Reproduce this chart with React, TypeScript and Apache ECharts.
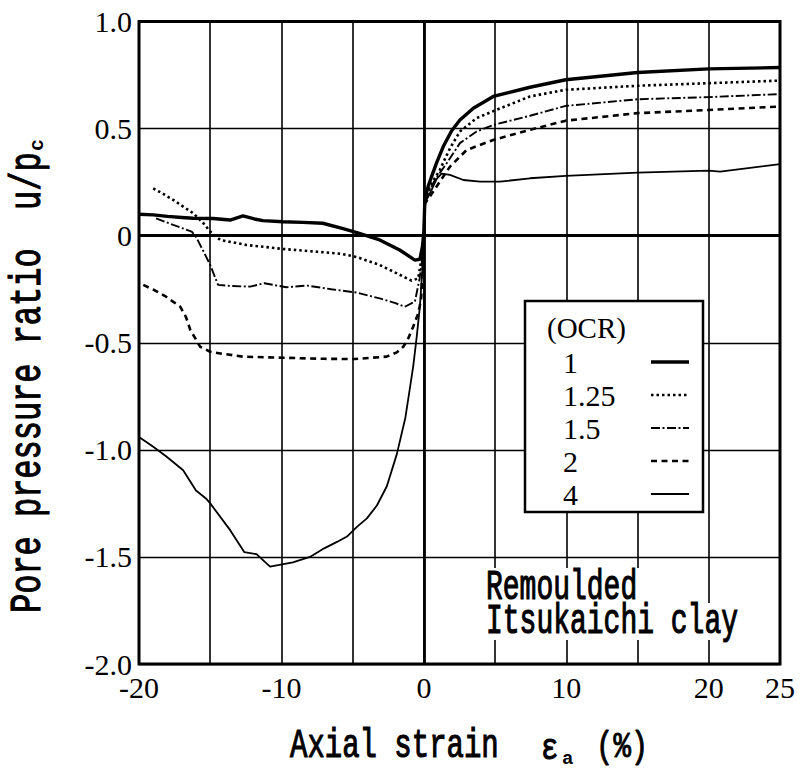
import React, { useEffect, useRef } from "react";
import * as echarts from "echarts";

// OCR values (legend labels)
const ocrLabels = ["1", "1.25", "1.5", "2", "4"];

// [axial strain %, u/pc]
const ocr1: [number, number][] = [
  [-20, 0.1], [-19, 0.097], [-18, 0.09], [-17, 0.085], [-16.2, 0.081], [-14.8, 0.08],
  [-13.6, 0.073], [-12.7, 0.092], [-11.9, 0.078], [-11.3, 0.07], [-9.9, 0.065], [-8.5, 0.062],
  [-7.1, 0.058], [-5.8, 0.035], [-4.7, 0.014], [-3.1, -0.02], [-1.7, -0.067], [-0.63, -0.114],
  [-0.28, -0.11], [-0.1, -0.05], [0, 0.02], [0.07, 0.17], [0.3, 0.23], [0.54, 0.276],
  [0.89, 0.34], [1.36, 0.416], [1.95, 0.49], [2.53, 0.54], [3.47, 0.595], [4.87, 0.65],
  [7.45, 0.693], [9.96, 0.728], [15, 0.762], [20, 0.779], [25, 0.785],
];

const ocr125: [number, number][] = [
  [-19, 0.221], [-18.3, 0.195], [-17.6, 0.167], [-16.2, 0.105], [-15.5, 0.06], [-15, 0.019],
  [-14.3, -0.02], [-12.5, -0.043], [-9.9, -0.062], [-7.5, -0.075], [-5.8, -0.085], [-4.7, -0.1],
  [-3.1, -0.137], [-1.9, -0.176], [-0.87, -0.21], [-0.4, -0.2], [-0.15, -0.1], [0, 0.0],
  [0.07, 0.16], [0.3, 0.21], [0.6, 0.25], [1.12, 0.307], [1.83, 0.408], [2.53, 0.486],
  [3.7, 0.549], [5.0, 0.585], [7.45, 0.65], [9.96, 0.681], [15, 0.7], [20, 0.712], [25, 0.724],
];

const ocr15: [number, number][] = [
  [-18.8, 0.081], [-17.6, 0.05], [-16.3, 0.019], [-16, -0.005], [-15.5, -0.07], [-15, -0.137],
  [-14.45, -0.23], [-13.5, -0.235], [-12.2, -0.238], [-11.2, -0.222], [-9.65, -0.241],
  [-8.2, -0.233], [-6.5, -0.25], [-4.7, -0.266], [-3.1, -0.293], [-2, -0.315], [-1.34, -0.332],
  [-0.63, -0.308], [-0.3, -0.2], [-0.1, -0.1], [0, 0.0], [0.07, 0.16], [0.4, 0.21], [0.77, 0.26],
  [1.6, 0.338], [2.53, 0.432], [3.7, 0.486], [4.87, 0.517], [7.45, 0.56], [9.96, 0.606],
  [15, 0.637], [20, 0.647], [25, 0.661],
];

const ocr2: [number, number][] = [
  [-19.7, -0.23], [-18.9, -0.255], [-18.1, -0.285], [-17.1, -0.332], [-16.7, -0.38],
  [-16.4, -0.44], [-15.7, -0.519], [-15, -0.542], [-14.6, -0.547], [-12.7, -0.565],
  [-9.9, -0.57], [-7, -0.575], [-4.85, -0.576], [-2.62, -0.565], [-1.9, -0.545],
  [-1.45, -0.519], [-1.1, -0.48], [-0.75, -0.425], [-0.4, -0.363], [-0.2, -0.3],
  [-0.05, -0.12], [0, 0.0], [0.07, 0.15], [0.6, 0.2], [1.2, 0.26], [1.83, 0.322], [3.0, 0.4],
  [4.87, 0.447], [7.45, 0.494], [9.96, 0.537], [15, 0.572], [20, 0.587], [25, 0.603],
];

const ocr4: [number, number][] = [
  [-20, -0.94], [-19, -0.986], [-18.1, -1.03], [-16.9, -1.095], [-16, -1.19], [-15.3, -1.227],
  [-15, -1.25], [-13.6, -1.375], [-12.6, -1.478], [-11.75, -1.487], [-10.8, -1.545],
  [-9.2, -1.525], [-8, -1.5], [-7, -1.46], [-6.1, -1.43], [-5.4, -1.405], [-4.7, -1.36],
  [-4, -1.32], [-3.3, -1.26], [-2.6, -1.17], [-1.9, -1.02], [-1.3, -0.85], [-1.0, -0.72],
  [-0.75, -0.61], [-0.5, -0.47], [-0.28, -0.33], [-0.1, -0.15], [0, 0.0], [0.07, 0.15],
  [0.19, 0.167], [0.54, 0.214], [0.9, 0.265], [1.24, 0.29], [1.83, 0.284], [2.77, 0.26],
  [3.94, 0.252], [5.34, 0.252], [7.45, 0.268], [9.96, 0.279], [15, 0.294], [20, 0.304],
  [20.8, 0.299], [25, 0.334],
];

const seriesData = [ocr1, ocr125, ocr15, ocr2, ocr4];

const lineStyles: { width: number; type: any }[] = [
  { width: 3.4, type: "solid" },
  { width: 2.6, type: [2.5, 3] },
  { width: 1.9, type: [9, 2.5, 2, 2.5] },
  { width: 2.6, type: [6, 4.5] },
  { width: 1.8, type: "solid" },
];

const xLabelValues = [-20, -10, 0, 10, 20, 25];

const SERIF = "'Liberation Serif', 'Times New Roman', serif";
const MONO = "'Liberation Mono', 'Courier New', monospace";

export default function App() {
  const ref = useRef<HTMLDivElement>(null);

  useEffect(() => {
    if (!ref.current) return;
    const chart = echarts.init(ref.current, undefined, { renderer: "svg" });

    const series: any[] = seriesData.map((d, i) => ({
      name: ocrLabels[i],
      type: "line",
      data: d,
      showSymbol: false,
      symbol: "none",
      smooth: false,
      z: 3,
      lineStyle: { color: "#000", width: lineStyles[i].width, type: lineStyles[i].type, cap: "butt" },
    }));

    series.push({
      name: "zero",
      type: "line",
      data: [],
      showSymbol: false,
      z: 2,
      markLine: {
        silent: true,
        symbol: "none",
        label: { show: false },
        lineStyle: { color: "#000", width: 2.8, type: "solid" },
        data: [{ xAxis: 0 }, { yAxis: 0 }],
      },
    });

    const monoText = (text: string, x: number, y: number, size: number, extra: any = {}) => ({
      type: "text",
      z: 101,
      x,
      y,
      scaleY: extra.scaleY ?? 1.45,
      rotation: extra.rotation ?? 0,
      style: {
        text,
        fontSize: size,
        lineHeight: extra.lineHeight ?? Math.round(size * 0.85),
        fontFamily: MONO,
        fontWeight: extra.fontWeight ?? "normal",
        fill: "#000",
        stroke: "#000",
        lineWidth: extra.lineWidth ?? 0.8,
        align: "left",
        verticalAlign: "middle",
      },
    });

    // legend graphic
    const legendX = 525, legendY = 301, legendW = 178, legendH = 211;
    const rowY0 = 362, rowGap = 33;
    const graphics: any[] = [
      {
        type: "rect",
        z: 100,
        shape: { x: legendX, y: legendY, width: legendW, height: legendH },
        style: { fill: "#fff", stroke: "#000", lineWidth: 2.5 },
      },
      {
        type: "text",
        z: 101,
        x: 547,
        y: 328,
        style: { text: "(OCR)", fontSize: 29, fontFamily: SERIF, fill: "#000", align: "left", verticalAlign: "middle" },
      },
    ];
    ocrLabels.forEach((lab, i) => {
      const y = rowY0 + i * rowGap;
      graphics.push({
        type: "text",
        z: 101,
        x: 563,
        y: y,
        style: { text: lab, fontSize: 30, fontFamily: SERIF, fill: "#000", align: "left", verticalAlign: "middle" },
      });
      graphics.push({
        type: "line",
        z: 101,
        shape: { x1: 651, y1: y, x2: 689, y2: y },
        style: { stroke: "#000", lineWidth: lineStyles[i].width, lineDash: lineStyles[i].type === "solid" ? null : lineStyles[i].type },
      });
    });

    // annotation
    graphics.push(
      { type: "rect", z: 100, shape: { x: 482, y: 568, width: 170, height: 35 }, style: { fill: "#fff" } },
      { type: "rect", z: 100, shape: { x: 482, y: 603, width: 256, height: 37 }, style: { fill: "#fff" } },
      monoText("Remoulded", 486, 588, 28, { scaleY: 1.5 }),
      monoText("Itsukaichi clay", 486, 622, 28, { scaleY: 1.5 })
    );

    // x axis title
    graphics.push(
      monoText("Axial strain", 290, 747, 29, { scaleY: 1.4 }),
      monoText("ε", 541, 749, 29, { scaleY: 1.3 }),
      monoText("a", 562, 759, 19, { scaleY: 1, lineHeight: 14, fontWeight: "bold", lineWidth: 0 }),
      monoText("(%)", 596, 747, 29, { scaleY: 1.3 })
    );

    // y axis title (rotated)
    graphics.push(
      monoText("Pore pressure ratio  u/p", 28, 613, 32, { rotation: Math.PI / 2, scaleY: 1.4 }),
      monoText("c", 37, 151, 20, { rotation: Math.PI / 2, scaleY: 1, lineHeight: 16, fontWeight: "bold", lineWidth: 0 })
    );

    chart.setOption({
      animation: false,
      backgroundColor: "#fff",
      grid: {
        left: 139,
        right: 25,
        top: 21.5,
        bottom: 107,
        show: true,
        borderColor: "#000",
        borderWidth: 3,
        backgroundColor: "transparent",
        z: 4,
      },
      xAxis: {
        type: "value",
        min: -20,
        max: 25,
        interval: 5,
        axisLine: { show: false, onZero: false },
        axisTick: { show: false },
        splitLine: { show: true, lineStyle: { color: "#000", width: 1.6 } },
        axisLabel: {
          color: "#000",
          fontFamily: SERIF,
          fontSize: 30,
          margin: 8,
          showMinLabel: true,
          showMaxLabel: true,
          formatter: (v: number) => (xLabelValues.indexOf(v) >= 0 ? String(v) : ""),
        },
      },
      yAxis: {
        type: "value",
        min: -2,
        max: 1,
        interval: 0.5,
        axisLine: { show: false, onZero: false },
        axisTick: { show: false },
        splitLine: { show: true, lineStyle: { color: "#000", width: 1.4 } },
        axisLabel: {
          color: "#000",
          fontFamily: SERIF,
          fontSize: 30,
          margin: 7,
          formatter: (v: number) => (v === 0 ? "0" : v.toFixed(1)),
        },
      },
      series,
      graphic: graphics,
    });

    return () => chart.dispose();
  }, []);

  return (
    <div
      ref={ref}
      style={{ position: "fixed", left: 0, top: 0, width: 805, height: 771, background: "#fff" }}
    />
  );
}
